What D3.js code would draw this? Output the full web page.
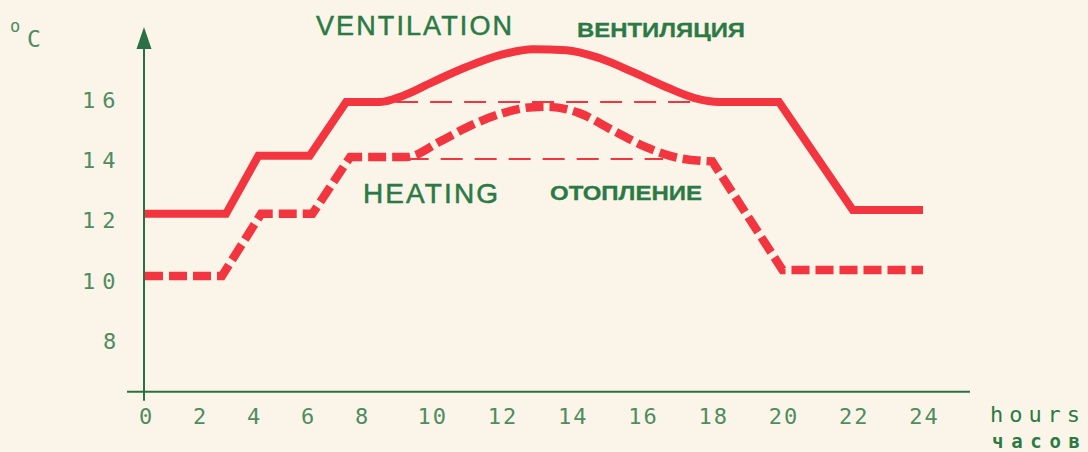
<!DOCTYPE html>
<html>
<head>
<meta charset="utf-8">
<script src="https://cdn.jsdelivr.net/npm/d3@7"></script>
<style>
  html, body { margin: 0; padding: 0; background: #faf5e8; }
  svg { display: block; }
</style>
</head>
<body>
<svg id="chart" width="1088" height="452"></svg>
<script>
// ---- data ----
const hourTicks = [0, 2, 4, 6, 8, 10, 12, 14, 16, 18, 20, 22, 24];
const tempTicks = [8, 10, 12, 14, 16];

// ventilation (solid): stepped part, smooth hump, falling part  [hour, °C]
const ventRise = [[0, 12.2], [3, 12.2], [4.2, 14.13], [6.1, 14.13], [7.45, 15.91]];
const ventHump = [[7.45, 15.91], [8.55, 15.91], [9.2, 16.12], [10.05, 16.58], [11.0, 17.07],
                  [12.0, 17.48], [12.9, 17.66], [13.85, 17.63], [14.8, 17.36], [15.75, 16.9],
                  [16.7, 16.4], [17.5, 16.04], [18.2, 15.91], [19.9, 15.91]];
const ventFall = [[19.9, 15.91], [22.0, 12.33], [24, 12.33]];

// heating (thick dashed)
const heatRise = [[0, 10.14], [2.85, 10.14], [4.3, 12.2], [6.2, 12.2], [7.6, 14.09]];
const heatHump = [[7.6, 14.09], [9.3, 14.09], [10.25, 14.6], [11.0, 15.06], [12.0, 15.53],
                  [12.9, 15.74], [13.3, 15.75], [14.2, 15.55], [15.15, 14.98], [16.1, 14.42],
                  [17.1, 14.04], [18.0, 13.94]];
const heatFall = [[18.0, 13.94], [20.0, 10.34], [24, 10.34]];

// thin dashed reference levels [from hour, to hour, °C]
const refLevels = [[9.0, 17.6, 15.91], [9.3, 16.6, 14.02]];

const titles = {
  ventEn: "VENTILATION", ventRu: "ВЕНТИЛЯЦИЯ",
  heatEn: "HEATING", heatRu: "ОТОПЛЕНИЕ",
  unitX1: "hours", unitX2: "часов"
};

// ---- drawing ----
const RED = "#f2353f";
const GREEN = "#2b7a45";
const AXIS = "#2b6f44";
const LABEL = "#4f8c60";

const svg = d3.select("#chart");

const x = d3.scaleLinear().domain([0, 8, 24]).range([145, 361, 923]);
const y = d3.scaleLinear().domain([8, 16]).range([340.5, 99.3]);
const yBottom = 6.3, yTop = 18.4;

// axes lines
const axisY = y(yBottom);
svg.append("line")
  .attr("x1", 127).attr("x2", 970)
  .attr("y1", axisY).attr("y2", axisY)
  .attr("stroke", AXIS).attr("stroke-width", 2);
svg.append("line")
  .attr("x1", x(0) - 1).attr("x2", x(0) - 1)
  .attr("y1", axisY + 9).attr("y2", y(yTop) + 12)
  .attr("stroke", AXIS).attr("stroke-width", 2);
// arrow head
const ax = x(0) - 1, at = y(yTop);
svg.append("path")
  .attr("d", `M${ax},${at} L${ax - 7.5},${at + 22} L${ax + 7.5},${at + 22} Z`)
  .attr("fill", AXIS);

// x tick labels via d3 axis
const gx = svg.append("g")
  .attr("transform", `translate(0,${axisY})`)
  .call(d3.axisBottom(x).tickValues(hourTicks).tickSize(0).tickPadding(0).tickFormat(d3.format("d")));
gx.select(".domain").remove();
gx.selectAll("text")
  .attr("y", 32).attr("dy", null)
  .attr("dx", 1)
  .attr("fill", LABEL)
  .style("font-family", "'DejaVu Sans Mono', monospace")
  .style("font-size", "22px")
  .style("letter-spacing", "2px");

// y tick labels via d3 axis
const gy = svg.append("g")
  .attr("transform", "translate(82,0)")
  .call(d3.axisLeft(y).tickValues(tempTicks).tickSize(0).tickPadding(0).tickFormat(d3.format("d")));
gy.select(".domain").remove();
gy.selectAll("text")
  .attr("text-anchor", "start")
  .attr("x", d => d < 10 ? 21 : 0)
  .attr("dy", "0.36em")
  .attr("fill", LABEL)
  .style("font-family", "'DejaVu Sans Mono', monospace")
  .style("font-size", "22px")
  .style("letter-spacing", "7px");

// unit labels
svg.append("text").attr("x", 10).attr("y", 32).text("o")
  .attr("fill", LABEL).style("font-family", "'DejaVu Sans Mono', monospace").style("font-size", "17px");
svg.append("text").attr("x", 27).attr("y", 47).text("C")
  .attr("fill", LABEL).style("font-family", "'DejaVu Sans Mono', monospace").style("font-size", "23px");

svg.append("text").attr("x", 990).attr("y", 422).text(titles.unitX1)
  .attr("fill", GREEN).attr("textLength", 90).attr("lengthAdjust", "spacing")
  .style("font-family", "'DejaVu Sans Mono', monospace").style("font-size", "22px");
svg.append("text").attr("x", 992).attr("y", 448).text(titles.unitX2)
  .attr("fill", GREEN).attr("textLength", 88).attr("lengthAdjust", "spacing")
  .style("font-family", "'DejaVu Sans Mono', monospace").style("font-size", "19px").style("font-weight", "bold");

// titles
function title(txt, tx, ty, size, weight, len, adj, sw) {
  svg.append("text").attr("x", tx).attr("y", ty).text(txt)
    .attr("fill", GREEN).attr("textLength", len).attr("lengthAdjust", adj)
    .attr("stroke", GREEN).attr("stroke-width", sw)
    .style("font-family", "'Liberation Sans', Arial, sans-serif")
    .style("font-size", size + "px").style("font-weight", weight);
}
title(titles.ventEn, 316, 35, 27, "normal", 196, "spacing", 0.5);
title(titles.ventRu, 577, 37, 21, "bold", 168, "spacingAndGlyphs", 0.3);
title(titles.heatEn, 363, 203, 28, "normal", 135, "spacing", 0.5);
title(titles.heatRu, 550, 200, 21, "bold", 152, "spacingAndGlyphs", 0.3);

// line builders
const lin = d3.line().x(d => x(d[0])).y(d => y(d[1]));
const smooth = d3.line().x(d => x(d[0])).y(d => y(d[1])).curve(d3.curveMonotoneX);
function joined(a, b, c) {
  return lin(a) + smooth(b).replace(/^M/, "L") + lin(c).replace(/^M/, "L");
}

// reference thin dashed lines
svg.selectAll(".ref").data(refLevels).enter().append("line")
  .attr("x1", d => x(d[0])).attr("x2", d => x(d[1]))
  .attr("y1", d => y(d[2])).attr("y2", d => y(d[2]))
  .attr("stroke", RED).attr("stroke-width", 2.2)
  .attr("stroke-dasharray", "22 12");

// heating thick dashed
svg.append("path")
  .attr("d", joined(heatRise, heatHump, heatFall))
  .attr("fill", "none").attr("stroke", RED).attr("stroke-width", 8.5)
  .attr("stroke-dasharray", "18 6").attr("stroke-linejoin", "miter");

// ventilation solid
svg.append("path")
  .attr("d", joined(ventRise, ventHump, ventFall))
  .attr("fill", "none").attr("stroke", RED).attr("stroke-width", 8)
  .attr("stroke-linejoin", "miter");
</script>
</body>
</html>
